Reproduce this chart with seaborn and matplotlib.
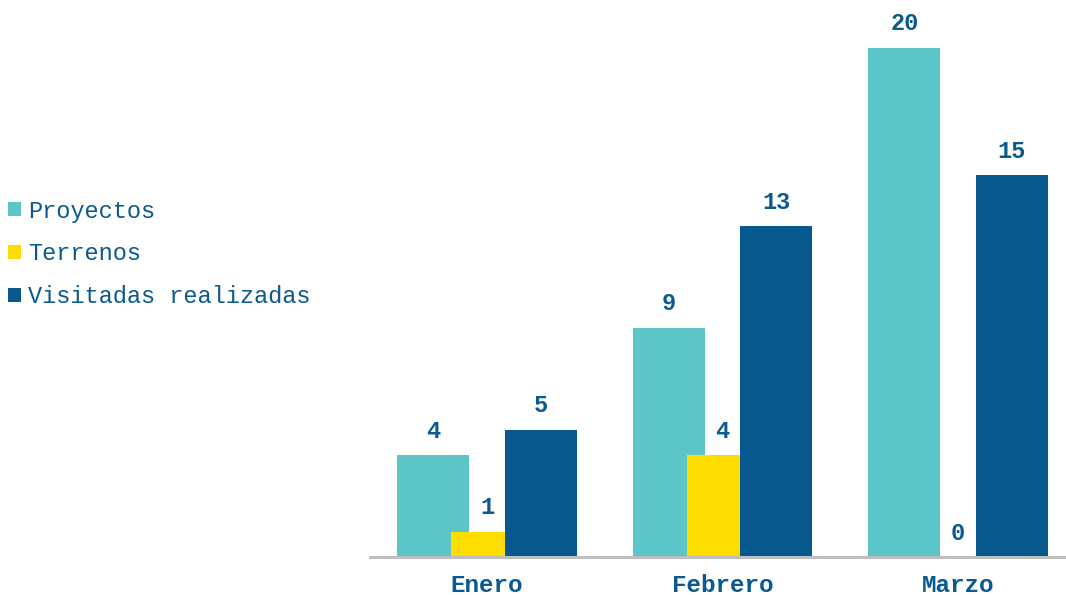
import pandas as pd
import seaborn as sns
import matplotlib
import matplotlib.pyplot as plt

matplotlib.use('Agg')

# data
meses = ['Enero', 'Febrero', 'Marzo']
series = ['Proyectos', 'Terrenos', 'Visitadas realizadas']
proyectos = [4, 9, 20]
terrenos = [1, 4, 0]
visitas = [5, 13, 15]
colores = ['#5BC5C8', '#FFDD00', '#07588F']
texto = '#0B5A8F'

df = pd.DataFrame({
	'Mes': meses * 3,
	'Serie': [series[0]] * 3 + [series[1]] * 3 + [series[2]] * 3,
	'Valor': proyectos + terrenos + visitas,
})

sns.set_style('white')
plt.rcParams['font.family'] = ['Liberation Mono', 'DejaVu Sans']

fig = plt.figure(figsize=(10.66, 5.95), dpi=100)
ax = fig.add_axes([370 / 1066, 1 - 557 / 595, 696 / 1066, 555 / 595])

# overlapping bars: step between series 0.228, bar width 0.306
sns.barplot(data=df, x='Mes', y='Valor', hue='Serie', hue_order=series,
			palette=colores, width=0.684, gap=-0.342, saturation=1,
			edgecolor='none', ax=ax)

for cont in ax.containers:
	ax.bar_label(cont, fmt='%d', padding=9, fontsize=17, fontweight='bold',
				 color=texto)

ax.set_xlim(-0.497, 2.458)
ax.set_ylim(0, 555 / 25.45)
ax.set_xlabel('')
ax.set_ylabel('')
ax.set_yticks([])
for s in ['top', 'right', 'left']:
	ax.spines[s].set_visible(False)
ax.spines['bottom'].set_color('#BFBFBF')
ax.spines['bottom'].set_linewidth(2.2)
ax.tick_params(axis='x', length=0, pad=12)
for t in ax.get_xticklabels():
	t.set_fontsize(17.5)
	t.set_fontweight('bold')
	t.set_color(texto)

handles, labels = ax.get_legend_handles_labels()
ax.legend(handles, labels, loc='center left', bbox_to_anchor=(8 / 1066, 1 - 254 / 595),
		  bbox_transform=fig.transFigure, frameon=False, fontsize=17,
		  handlelength=0.55, handleheight=0.55, handletextpad=0.3,
		  labelspacing=0.84, borderpad=0, borderaxespad=0, labelcolor=texto)

plt.savefig('out.png', dpi=100)
